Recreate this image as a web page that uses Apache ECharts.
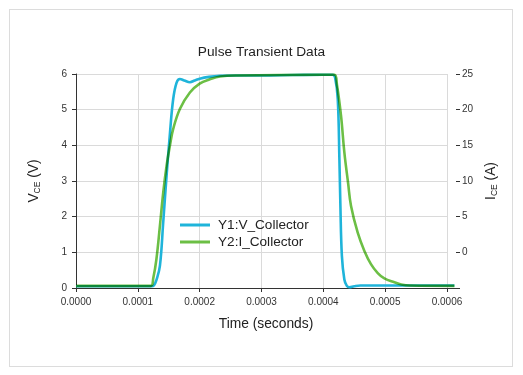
<!DOCTYPE html>
<html>
<head>
<meta charset="utf-8">
<script src="https://cdn.jsdelivr.net/npm/echarts@6/dist/echarts.min.js"></script>
<style>
html,body{margin:0;padding:0;background:#fff;}
#frame{position:absolute;left:9px;top:9px;width:502px;height:356px;border:1px solid #dcdcdc;}
#chart{position:absolute;left:0;top:0;width:523px;height:375px;}
</style>
</head>
<body>
<div id="frame"></div>
<div id="chart"></div>
<script>
// Y1: V_Collector (V) vs time (s)
const timeV = [0, 0.000122, 0.000126, 0.00013, 0.0001357, 0.000141, 0.0001465, 0.000152, 0.0001572, 0.0001627, 0.000168, 0.000175, 0.0001842, 0.000192, 0.0002, 0.000215, 0.000233, 0.00026, 0.0003, 0.00035, 0.0004, 0.000415, 0.000419, 0.0004233, 0.000426, 0.0004276, 0.00043, 0.000434, 0.000438, 0.000442, 0.00045, 0.00046, 0.00048, 0.0005, 0.000612];
const voltage = [0.05, 0.05, 0.07, 0.22, 0.62, 1.83, 3.15, 4.35, 5.3, 5.76, 5.86, 5.82, 5.77, 5.82, 5.87, 5.92, 5.95, 5.96, 5.96, 5.97, 5.98, 5.98, 5.9, 5.3, 3.6, 2.3, 0.9, 0.24, 0.06, 0.02, 0.05, 0.07, 0.07, 0.07, 0.07];
// Y2: I_Collector (A) vs time (s)
const timeI = [0, 0.000121, 0.000125, 0.00013, 0.0001357, 0.000141, 0.0001465, 0.000152, 0.0001572, 0.000168, 0.0001842, 0.0002, 0.0002165, 0.000233, 0.00026, 0.0004, 0.000418, 0.000422, 0.0004286, 0.000434, 0.00044, 0.0004448, 0.0004556, 0.0004664, 0.000477, 0.000488, 0.0004987, 0.000515, 0.000526, 0.00054, 0.000612];
const current = [-4.7, -4.7, -3.6, -1.0, 3.7, 8.35, 12.15, 15.0, 17.3, 20.1, 22.4, 23.65, 24.25, 24.65, 24.8, 24.9, 24.9, 23.5, 19.15, 14.0, 9.75, 6.5, 2.75, 0.2, -1.65, -2.9, -3.65, -4.2, -4.5, -4.65, -4.7];
const xTicks = ['0.0000', '0.0001', '0.0002', '0.0003', '0.0004', '0.0005', '0.0006'];

const FONT = '"Liberation Sans", Arial, Helvetica, sans-serif';
const dark = '#333';
const gridCol = '#dadada';
const blue = '#1fb4da';
const green = '#6cbf45';

const chart = echarts.init(document.getElementById('chart'), null, {renderer: 'canvas'});
const vData = timeV.map((t, i) => [t, voltage[i]]);
const iData = timeI.map((t, i) => [t, current[i]]);
const xMaxData = 0.0006 * 380 / 371;

chart.setOption({
  animation: false,
  backgroundColor: 'transparent',
  textStyle: {fontFamily: FONT},
  title: {
    text: 'Pulse Transient Data', left: 'center', top: 40,
    textStyle: {fontSize: 13.7, fontWeight: 'normal', color: '#222', fontFamily: FONT}
  },
  legend: {
    orient: 'vertical', left: 180, top: 218, padding: 0, itemWidth: 30, itemHeight: 3, itemGap: 3,
    icon: 'rect',
    textStyle: {fontSize: 13.6, color: '#222', fontFamily: FONT, padding: [0, 0, 0, 3]},
    data: ['Y1:V_Collector', 'Y2:I_Collector']
  },
  grid: [
    {left: 76, right: 76, top: 74, bottom: 87},
    {left: 76, right: 67, top: 74, bottom: 87}
  ],
  xAxis: [
    {
      type: 'value', gridIndex: 0, min: 0, max: 0.0006, interval: 0.0001,
      axisLine: {show: false, onZero: false},
      axisTick: {show: true, length: 4, lineStyle: {color: dark}},
      axisLabel: {fontSize: 10, color: dark, margin: 9, fontFamily: FONT,
        formatter: v => xTicks[Math.round(v / 0.0001)] || ''},
      splitLine: {show: true, lineStyle: {color: gridCol}}
    },
    {
      type: 'value', gridIndex: 1, min: 0, max: xMaxData,
      axisLine: {show: true, onZero: false, lineStyle: {color: dark, width: 1}},
      axisTick: {show: false}, axisLabel: {show: false}, splitLine: {show: false},
      name: 'Time (seconds)', nameLocation: 'middle', nameGap: 29,
      nameTextStyle: {fontSize: 13.8, color: '#222', fontFamily: FONT}
    }
  ],
  yAxis: [
    {
      type: 'value', gridIndex: 0, position: 'left', min: 0, max: 6, interval: 1,
      axisLine: {show: true, onZero: false, lineStyle: {color: dark}},
      axisTick: {show: true, length: 4, lineStyle: {color: dark}},
      axisLabel: {fontSize: 10, color: dark, margin: 9, fontFamily: FONT},
      splitLine: {show: true, lineStyle: {color: gridCol}},
      name: '{a|V}{b|CE}{a| (V)}', nameLocation: 'middle', nameGap: 34,
      nameTextStyle: {
        color: '#222', fontFamily: FONT,
        rich: {
          a: {fontSize: 13.8, color: '#222', fontFamily: FONT, lineHeight: 16},
          b: {fontSize: 8.5, color: '#222', fontFamily: FONT, lineHeight: 8, verticalAlign: 'bottom'}
        }
      }
    },
    {
      type: 'value', gridIndex: 1, position: 'right', min: -5, max: 25, interval: 5,
      axisLine: {show: true, onZero: false, lineStyle: {color: 'rgba(0,0,0,0)'}},
      axisTick: {show: true, length: 4, lineStyle: {color: dark}},
      axisLabel: {fontSize: 10, color: dark, margin: 6, fontFamily: FONT,
        formatter: v => (v < 0 ? '' : String(v))},
      splitLine: {show: false},
      name: '{a|I}{b|CE}{a| (A)}', nameLocation: 'middle', nameGap: 24,
      nameTextStyle: {
        color: '#222', fontFamily: FONT,
        rich: {
          a: {fontSize: 13.8, color: '#222', fontFamily: FONT, lineHeight: 16},
          b: {fontSize: 8.5, color: '#222', fontFamily: FONT, lineHeight: 8, verticalAlign: 'bottom'}
        }
      }
    },
    {
      type: 'value', gridIndex: 1, position: 'left', min: 0, max: 6, show: false
    }
  ],
  series: [
    {
      name: 'Y1:V_Collector', type: 'line', xAxisIndex: 1, yAxisIndex: 2,
      data: vData, showSymbol: false, symbol: 'none', smooth: 0.4,
      lineStyle: {color: blue, width: 2.6}, itemStyle: {color: blue}
    },
    {
      name: 'Y2:I_Collector', type: 'line', xAxisIndex: 1, yAxisIndex: 1,
      data: iData, showSymbol: false, symbol: 'none', smooth: 0.4,
      lineStyle: {color: green, width: 2.6}, itemStyle: {color: green},
      blendMode: 'multiply'
    }
  ]
});
</script>
</body>
</html>
